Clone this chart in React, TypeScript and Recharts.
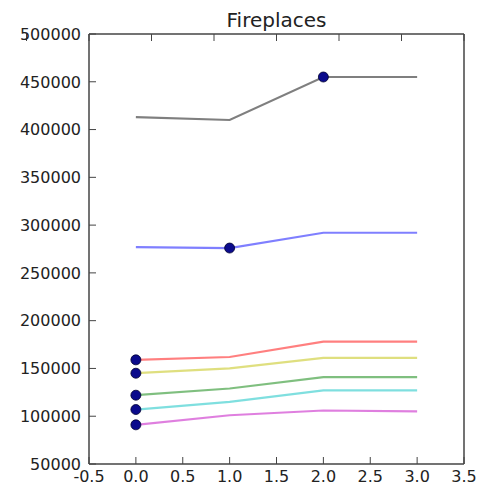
import { ComposedChart, Line, XAxis, YAxis } from 'recharts';

const xs = [0, 1, 2, 3];
const black = [413000, 410000, 455000, 455000];
const blue = [277000, 276000, 292000, 292000];
const red = [159000, 162000, 178000, 178000];
const yellow = [145000, 150000, 161000, 161000];
const green = [122000, 129000, 141000, 141000];
const cyan = [107000, 115000, 127000, 127000];
const magenta = [91000, 101000, 106000, 105000];

const xTicks = [-0.5, 0, 0.5, 1, 1.5, 2, 2.5, 3, 3.5];
const yTicks = [50000, 100000, 150000, 200000, 250000, 300000, 350000, 400000, 450000, 500000];

// which point of each series carries the navy marker
const series = [
  { key: 'black', values: black, color: '#000000', marker: 2 },
  { key: 'blue', values: blue, color: '#0000ff', marker: 1 },
  { key: 'red', values: red, color: '#ff0000', marker: 0 },
  { key: 'yellow', values: yellow, color: '#bfbf00', marker: 0 },
  { key: 'green', values: green, color: '#008000', marker: 0 },
  { key: 'cyan', values: cyan, color: '#00bfbf', marker: 0 },
  { key: 'magenta', values: magenta, color: '#bf00bf', marker: 0 },
];

const data = xs.map((x, i) => {
  const row: Record<string, number> = { x };
  series.forEach((s) => (row[s.key] = s.values[i]));
  return row;
});

const font = '"DejaVu Sans", sans-serif';
const tickColor = '#222';
const frame = '#444';

const BottomTick = (p: any) => (
  <g>
    <line x1={p.x} y1={p.y} x2={p.x} y2={p.y - 7} stroke={frame} />
    <text x={p.x} y={p.y + 18} textAnchor="middle" fontSize={16} fill={tickColor} fontFamily={font}>
      {p.payload.value.toFixed(1)}
    </text>
  </g>
);

const TopTick = (p: any) => <line x1={p.x} y1={p.y} x2={p.x} y2={p.y + 7} stroke={frame} />;

const LeftTick = (p: any) => (
  <g>
    <line x1={p.x} y1={p.y} x2={p.x + 7} y2={p.y} stroke={frame} />
    <text x={p.x - 8} y={p.y} dy="0.36em" textAnchor="end" fontSize={16} fill={tickColor} fontFamily={font}>
      {p.payload.value}
    </text>
  </g>
);

const RightTick = (p: any) => <line x1={p.x} y1={p.y} x2={p.x - 7} y2={p.y} stroke={frame} />;

const markerDot = (idx: number) => (props: any) => {
  if (props.index !== idx) return <g key={props.key} />;
  return <circle key={props.key} cx={props.cx} cy={props.cy} r={5} fill="#0b0b8c" stroke="#000030" strokeWidth={0.8} />;
};

export default function App() {
  return (
    <div style={{ position: 'absolute', left: 0, top: 0, width: 479, height: 491, background: '#fff' }}>
      <div
        style={{
          position: 'absolute',
          left: 89,
          width: 375,
          top: 10,
          textAlign: 'center',
          fontFamily: font,
          fontSize: 20,
          lineHeight: '20px',
          color: tickColor,
        }}
      >
        Fireplaces
      </div>
      <ComposedChart width={479} height={491} data={data} margin={{ top: 0, right: 0, bottom: 0, left: 0 }}>
        <XAxis
          dataKey="x"
          type="number"
          domain={[-0.5, 3.5]}
          ticks={xTicks}
          interval={0}
          height={27}
          tickSize={0}
          tickMargin={0}
          tickLine={false}
          axisLine={{ stroke: frame, strokeWidth: 1.5 }}
          tick={<BottomTick />}
        />
        <XAxis
          xAxisId="top"
          orientation="top"
          type="number"
          domain={[-0.5, 3.5]}
          ticks={xTicks}
          interval={0}
          height={34}
          tickSize={0}
          tickMargin={0}
          tickLine={false}
          axisLine={{ stroke: frame, strokeWidth: 1.5 }}
          tick={<TopTick />}
        />
        <YAxis
          type="number"
          domain={[50000, 500000]}
          ticks={yTicks}
          interval={0}
          width={89}
          tickSize={0}
          tickMargin={0}
          tickLine={false}
          axisLine={{ stroke: frame, strokeWidth: 1.5 }}
          tick={<LeftTick />}
        />
        <YAxis
          yAxisId="right"
          orientation="right"
          type="number"
          domain={[50000, 500000]}
          ticks={yTicks}
          interval={0}
          width={15}
          tickSize={0}
          tickMargin={0}
          tickLine={false}
          axisLine={{ stroke: frame, strokeWidth: 1.5 }}
          tick={<RightTick />}
        />
        {series.map((s) => (
          <Line
            key={s.key}
            dataKey={s.key}
            type="linear"
            stroke={s.color}
            strokeOpacity={0.5}
            strokeWidth={2.2}
            dot={markerDot(s.marker)}
            activeDot={false}
            isAnimationActive={false}
          />
        ))}
      </ComposedChart>
    </div>
  );
}
